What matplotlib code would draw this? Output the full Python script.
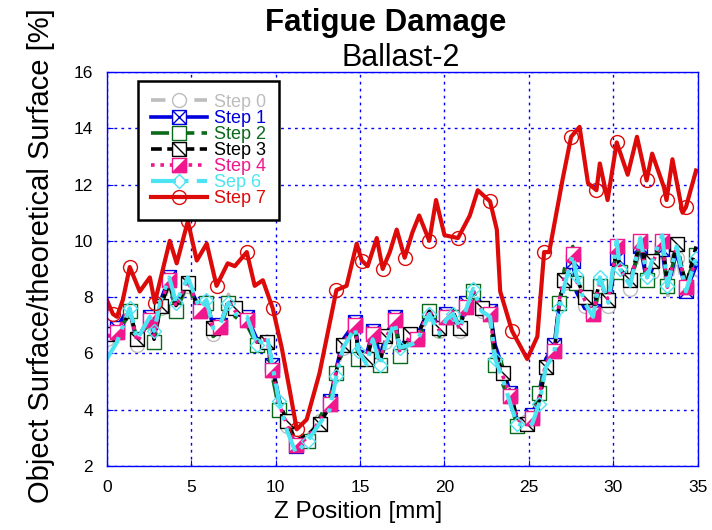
import matplotlib
matplotlib.use("Agg")
import matplotlib.pyplot as plt
from matplotlib.path import Path
from matplotlib.legend_handler import HandlerTuple

plt.rcParams['font.family'] = ['Liberation Sans', 'DejaVu Sans']

# Z positions shared by steps 0-6 [mm]
z_pos = [0.0, 0.6, 1.35, 1.8, 2.55, 2.8, 3.2, 3.7, 4.1, 4.8,
         5.5, 5.9, 6.3, 6.7, 7.2, 7.6, 8.3, 8.9, 9.5, 9.8,
         10.2, 10.65, 11.2, 11.9, 12.6, 13.2, 13.6, 14.0, 14.7, 14.9,
         15.4, 15.75, 16.2, 16.5, 17.05, 17.35, 17.95, 18.35, 19.1, 19.7,
         20.1, 20.5, 20.9, 21.3, 21.7, 22.2, 22.7, 23.0, 23.45, 23.9,
         24.3, 24.9, 25.2, 25.6, 26.0, 26.5, 26.8, 27.1, 27.6, 27.8,
         28.3, 28.8, 29.2, 29.7, 30.2, 30.4, 31.0, 31.6, 32.0, 32.3,
         32.9, 33.2, 33.75, 34.3, 34.9]

step0 = [6.5, 6.6, 7.4, 6.3, 7.0, 6.5, 7.6, 8.4, 7.5, 8.4,
         7.4, 7.8, 6.7, 6.9, 8.1, 7.6, 7.1, 6.3, 6.4, 5.3,
         4.1, 3.4, 2.8, 3.1, 3.6, 4.1, 5.3, 6.2, 6.9, 6.1,
         5.9, 6.6, 5.8, 6.4, 7.0, 6.1, 6.5, 6.4, 7.4, 6.8,
         7.2, 7.3, 6.8, 7.5, 8.1, 7.5, 7.3, 6.0, 5.3, 4.6,
         3.7, 3.6, 3.8, 4.5, 5.5, 6.0, 7.7, 8.5, 9.3, 8.4,
         7.7, 7.2, 8.3, 7.7, 9.5, 8.8, 8.3, 9.7, 8.5, 8.9,
         9.6, 8.0, 9.4, 7.9, 8.8]

step1 = [6.7, 6.9, 7.7, 6.3, 7.3, 6.7, 7.9, 8.7, 7.7, 8.5,
         7.6, 8.0, 6.9, 7.0, 7.8, 7.4, 7.3, 6.5, 6.6, 5.6,
         4.4, 3.4, 2.7, 2.9, 3.5, 4.3, 5.5, 6.5, 7.1, 6.1,
         6.0, 6.8, 5.9, 6.6, 7.3, 6.2, 6.7, 6.6, 7.6, 6.9,
         7.4, 7.5, 6.9, 7.8, 8.4, 7.7, 7.5, 6.3, 5.5, 4.6,
         3.6, 3.4, 3.8, 4.6, 5.8, 6.3, 7.8, 8.6, 9.3, 8.2,
         7.6, 7.5, 8.4, 7.7, 9.4, 8.7, 8.6, 9.8, 8.5, 9.0,
         9.7, 8.3, 9.6, 8.2, 9.1]

step2 = [6.5, 6.6, 7.5, 6.5, 7.1, 6.4, 7.7, 8.5, 7.5, 8.5,
         7.3, 7.8, 6.6, 6.8, 7.8, 7.3, 7.0, 6.3, 6.4, 5.2,
         4.0, 3.3, 2.6, 2.9, 3.7, 4.4, 5.3, 6.2, 6.9, 5.8,
         5.7, 6.8, 5.6, 6.4, 7.3, 5.9, 6.4, 6.3, 7.5, 6.6,
         7.2, 7.3, 6.7, 7.6, 8.2, 7.4, 7.2, 5.6, 4.9, 4.3,
         3.4, 3.4, 3.8, 4.6, 5.7, 6.2, 7.8, 9.0, 9.8, 8.5,
         7.8, 7.3, 8.4, 7.8, 9.7, 8.9, 8.4, 9.9, 8.6, 9.3,
         9.9, 8.4, 9.7, 8.5, 9.5]

step3 = [6.7, 6.5, 7.5, 6.5, 7.3, 6.5, 7.7, 8.5, 7.7, 8.5,
         7.5, 7.9, 6.9, 6.8, 7.9, 7.6, 7.1, 6.4, 6.4, 5.5,
         4.3, 3.6, 2.9, 3.1, 3.5, 4.1, 5.4, 6.3, 7.0, 6.0,
         5.8, 6.6, 5.7, 6.6, 7.3, 6.1, 6.7, 6.6, 7.5, 6.9,
         7.4, 7.5, 6.9, 7.7, 8.2, 7.6, 7.5, 6.1, 5.3, 4.6,
         3.7, 3.5, 3.6, 4.3, 5.5, 6.0, 7.8, 8.6, 9.5, 8.7,
         8.0, 7.5, 8.6, 7.9, 9.7, 9.0, 8.6, 10.0, 8.8, 9.3,
         10.1, 8.5, 9.9, 8.4, 9.8]

step4 = [6.6, 6.75, 7.6, 6.4, 7.2, 6.6, 7.8, 8.6, 7.65, 8.6,
         7.5, 7.9, 6.8, 6.95, 7.9, 7.5, 7.2, 6.4, 6.5, 5.4,
         4.2, 3.5, 2.75, 3.0, 3.6, 4.2, 5.4, 6.35, 7.0, 6.0,
         5.9, 6.7, 5.75, 6.5, 7.2, 6.0, 6.6, 6.5, 7.55, 6.8,
         7.3, 7.4, 6.85, 7.65, 8.25, 7.55, 7.4, 5.9, 5.2, 4.5,
         3.65, 3.5, 3.7, 4.45, 5.65, 6.1, 7.9, 8.7, 9.55, 8.6,
         7.9, 7.4, 8.5, 7.9, 9.8, 8.95, 8.5, 10.0, 8.7, 9.2,
         10.0, 8.35, 9.8, 8.35, 9.3]

step6 = [5.8, 6.4, 7.6, 6.5, 7.3, 6.8, 7.9, 8.7, 7.8, 8.7,
         7.6, 7.9, 6.9, 7.0, 7.8, 7.4, 7.3, 6.3, 6.6, 5.6,
         4.3, 3.3, 2.45, 2.9, 3.5, 4.0, 5.2, 6.2, 6.9, 6.1,
         5.6, 6.5, 5.6, 6.3, 7.1, 6.2, 6.3, 6.4, 7.4, 6.7,
         7.2, 7.4, 6.9, 7.6, 8.3, 7.5, 7.3, 5.8, 5.1, 4.2,
         3.5, 3.4, 3.5, 4.2, 5.5, 6.0, 7.6, 8.4, 9.5, 8.8,
         7.8, 7.3, 8.7, 7.8, 10.0, 9.0, 8.4, 10.1, 8.7, 9.3,
         10.2, 8.4, 9.8, 8.2, 9.4]

# step 7 was sampled on its own grid
z_step7 = [0.0, 0.36, 0.6, 0.95, 1.36, 1.95, 2.55, 2.84, 3.73, 4.14,
           4.8, 5.33, 5.92, 6.5, 7.16, 7.58, 8.29, 8.76, 9.24, 9.83,
           10.36, 10.83, 11.25, 11.84, 12.6, 13.6, 14.2, 14.8, 15.1, 15.45,
           15.99, 16.34, 16.76, 17.17, 17.64, 18.1, 18.5, 19.1, 19.5, 20.0,
           20.8, 21.5, 21.97, 22.7, 23.1, 23.3, 24.0, 24.9, 25.5, 25.9,
           26.2, 27.0, 27.5, 28.0, 28.5, 29.0, 29.2, 29.66, 30.2, 30.85,
           31.4, 31.97, 32.3, 33.0, 33.15, 33.5, 34.1, 34.3, 34.9]
step7 = [7.9, 7.4, 7.3, 7.9, 9.07, 8.2, 8.7, 7.8, 10.0, 9.2,
         10.7, 9.3, 9.9, 8.4, 9.2, 9.1, 9.6, 8.4, 8.6, 7.6,
         6.2, 4.7, 3.3, 3.65, 5.3, 8.25, 8.4, 9.9, 9.3, 9.1,
         10.1, 9.0, 9.6, 10.4, 9.4, 10.3, 10.9, 10.0, 11.45, 10.2,
         10.1, 10.9, 11.8, 11.4, 10.4, 8.2, 6.8, 5.8, 6.6, 9.6,
         9.6, 12.2, 13.7, 14.05, 12.05, 11.8, 12.75, 11.45, 13.5, 12.35,
         13.7, 12.15, 13.1, 11.9, 11.45, 12.9, 11.0, 11.2, 12.5]

x_ticks = [0, 5, 10, 15, 20, 25, 30, 35]
y_ticks = [2, 4, 6, 8, 10, 12, 14, 16]

# custom square markers
M, L, C = Path.MOVETO, Path.LINETO, Path.CLOSEPOLY
sq = [(-1, -1), (1, -1), (1, 1), (-1, 1), (-1, -1)]
box = Path(sq, [M, L, L, L, C])
box_x = Path(sq + [(-1, -1), (1, 1), (-1, 1), (1, -1)], [M, L, L, L, C, M, L, M, L])
box_diag = Path(sq + [(-1, 1), (1, -1)], [M, L, L, L, C, M, L])
half_tri = Path([(-1, -1), (1, -1), (1, 1), (-1, -1)], [M, L, L, C])

c_gray = '#bdbdbd'
c_blue = '#0000dd'
c_green = '#0b6a1a'
c_pink = '#f0188c'
c_cyan = '#4ce4f2'
c_red = '#dd0a0a'

fig = plt.figure(figsize=(7.12, 5.30), dpi=100)
ax = fig.add_axes([0.150, 0.121, 0.830, 0.743])

lw = 2.6
ms = 10
h0, = ax.plot(z_pos, step0, color=c_gray, lw=lw, dashes=(4, 2),
              marker='o', ms=ms, mfc='white', mec=c_gray, mew=1, markevery=(0, 3))
h1, = ax.plot(z_pos, step1, color=c_blue, lw=lw,
              marker=box_x, ms=ms, mfc='white', mec=c_blue, mew=1, markevery=(1, 3))
h2, = ax.plot(z_pos, step2, color=c_green, lw=lw, dashes=(5, 2),
              marker=box, ms=ms, mfc='white', mec=c_green, mew=1, markevery=(2, 3))
h3, = ax.plot(z_pos, step3, color='black', lw=lw, dashes=(3, 1.5),
              marker=box_diag, ms=ms, mfc='white', mec='black', mew=1, markevery=(0, 3))
h4, = ax.plot(z_pos, step4, color=c_pink, lw=lw, dashes=(1, 1.6),
              marker=box, ms=ms, mfc='white', mec=c_pink, mew=1, markevery=(1, 3))
h4b, = ax.plot(z_pos, step4, ls='none', marker=half_tri, ms=ms,
               mfc=c_pink, mec=c_pink, mew=1, markevery=(1, 3))
h6, = ax.plot(z_pos, step6, color=c_cyan, lw=3.0, dashes=(6, 2, 1, 2),
              marker='D', ms=7, mfc='none', mec=c_cyan, mew=1, markevery=(2, 3))
h7, = ax.plot(z_step7, step7, color=c_red, lw=3.0,
              marker='o', ms=ms, mfc='none', mec=c_red, mew=1, markevery=(1, 3))

ax.set_xlim(0, 35)
ax.set_ylim(2, 16)
ax.set_xticks(x_ticks)
ax.set_yticks(y_ticks)
ax.tick_params(direction='in', color='blue', labelsize=12.5, length=4, pad=10)
ax.grid(True, color='blue', linestyle=(0, (2, 3)), lw=1)
for s in ax.spines.values():
    s.set_color('blue')
    s.set_linewidth(1)

ax.set_xlabel('Z Position [mm]', fontsize=17.5)
ax.xaxis.set_label_coords(0.426, -0.088)
ax.set_ylabel('Object Surface/theoretical Surface [%]', fontsize=21)
ax.yaxis.set_label_coords(-0.088, 0.533)

fig.text(0.542, 0.9415, 'Fatigue Damage', ha='center', va='baseline',
         fontsize=22.5, fontweight='bold')
fig.text(0.563, 0.8755, 'Ballast-2', ha='center', va='baseline', fontsize=22)

labels = ['Step 0', 'Step 1', 'Step 2', 'Step 3', 'Step 4', 'Sep 6', 'Step 7']
colors = [c_gray, c_blue, c_green, 'black', c_pink, c_cyan, c_red]
leg = ax.legend([h0, h1, h2, h3, (h4, h4b), h6, h7], labels,
                handler_map={tuple: HandlerTuple(ndivide=1, pad=0)},
                loc='upper left', bbox_to_anchor=(0.053, 0.977), borderaxespad=0,
                fontsize=13, labelspacing=-0.05, handlelength=3.1, handletextpad=0.4,
                borderpad=0.7, fancybox=False, framealpha=1, edgecolor='black')
leg.get_frame().set_linewidth(1.8)
for txt, col in zip(leg.get_texts(), colors):
    txt.set_color(col)

fig.savefig('out.png', dpi=100)
